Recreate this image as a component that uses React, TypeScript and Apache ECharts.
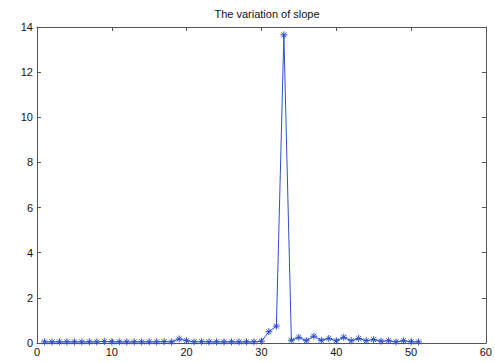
import React, { useEffect, useRef } from "react";
import * as echarts from "echarts";

const xValues = [
  1, 2, 3, 4, 5, 6, 7, 8, 9, 10, 11, 12, 13, 14, 15, 16, 17, 18, 19, 20,
  21, 22, 23, 24, 25, 26, 27, 28, 29, 30, 31, 32, 33, 34, 35, 36, 37, 38, 39, 40,
  41, 42, 43, 44, 45, 46, 47, 48, 49, 50, 51,
];
const slopeValues = [
  0.05, 0.05, 0.05, 0.05, 0.05, 0.05, 0.05, 0.05, 0.07, 0.05,
  0.05, 0.05, 0.05, 0.05, 0.05, 0.05, 0.06, 0.05, 0.18, 0.1,
  0.05, 0.06, 0.05, 0.05, 0.05, 0.05, 0.05, 0.05, 0.05, 0.08,
  0.5, 0.75, 13.65, 0.12, 0.25, 0.1, 0.3, 0.12, 0.2, 0.1,
  0.25, 0.1, 0.2, 0.1, 0.15, 0.08, 0.1, 0.05, 0.1, 0.05, 0.05,
];
const xTicks = { min: 0, max: 60, interval: 10 };
const yTicks = { min: 0, max: 14, interval: 2 };
const titleText = "The variation of slope";

const asterisk =
  "path://M0,-1L0,1M-1,0L1,0M-0.7,-0.7L0.7,0.7M-0.7,0.7L0.7,-0.7";

export default function App() {
  const ref = useRef<HTMLDivElement>(null);
  useEffect(() => {
    if (!ref.current) return;
    const chart = echarts.init(ref.current, null, { renderer: "svg" });
    const axisLine = { show: true, onZero: false, lineStyle: { color: "#555", width: 1 } };
    const axisTick = { show: true, inside: true, length: 4, lineStyle: { color: "#555" } };
    const font = "Liberation Sans, Arial, sans-serif";
    chart.setOption({
      animation: false,
      backgroundColor: "#fff",
      title: {
        text: titleText,
        left: 262,
        textAlign: "center",
        top: 3,
        textStyle: { fontSize: 11, fontWeight: "normal", color: "#111", fontFamily: font },
      },
      grid: { left: 37, right: 8, top: 27, bottom: 20, show: false },
      xAxis: [
        {
          type: "value",
          position: "bottom",
          ...xTicks,
          axisLine,
          axisTick,
          axisLabel: { color: "#111", fontSize: 11, fontFamily: font, margin: 3 },
          splitLine: { show: false },
        },
        {
          type: "value",
          position: "top",
          ...xTicks,
          axisLine,
          axisTick,
          axisLabel: { show: false },
          splitLine: { show: false },
        },
      ],
      yAxis: [
        {
          type: "value",
          position: "left",
          ...yTicks,
          axisLine,
          axisTick,
          axisLabel: { color: "#111", fontSize: 11, fontFamily: font, margin: 4 },
          splitLine: { show: false },
        },
        {
          type: "value",
          position: "right",
          ...yTicks,
          axisLine,
          axisTick,
          axisLabel: { show: false },
          splitLine: { show: false },
        },
      ],
      series: [
        {
          type: "line",
          data: xValues.map((x, i) => [x, slopeValues[i]]),
          symbol: asterisk,
          symbolSize: 7,
          showSymbol: true,
          lineStyle: { color: "#2f4fc8", width: 1 },
          itemStyle: { color: "#2f4fc8", borderColor: "#2f4fc8", borderWidth: 1 },
          emphasis: { disabled: true },
        },
      ],
    });
    return () => chart.dispose();
  }, []);
  return (
    <div
      ref={ref}
      style={{ position: "fixed", left: 0, top: 0, width: 495, height: 363 }}
    />
  );
}
